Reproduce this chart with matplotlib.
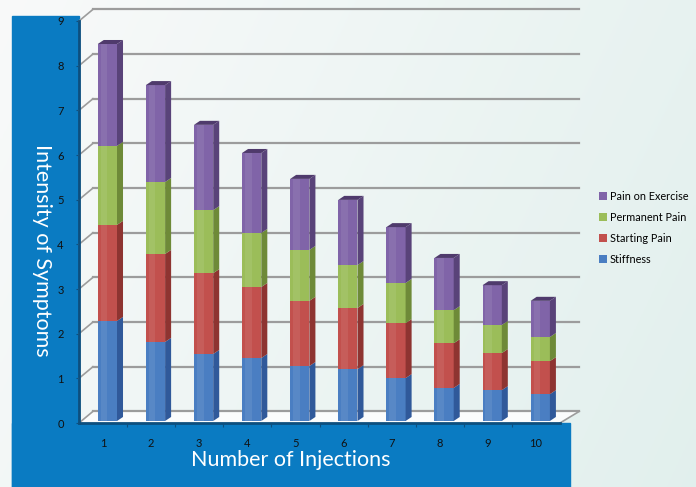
import numpy as np
import matplotlib
matplotlib.use("Agg")
import matplotlib.pyplot as plt
from matplotlib.patches import Polygon, Rectangle, Patch

plt.rcParams['font.family'] = ['Lato', 'DejaVu Sans']

# Data
injections = [1, 2, 3, 4, 5, 6, 7, 8, 9, 10]
stiffness = [2.24, 1.77, 1.50, 1.41, 1.23, 1.16, 0.96, 0.74, 0.69, 0.60]
starting_pain = [2.15, 1.97, 1.81, 1.59, 1.46, 1.37, 1.23, 1.00, 0.83, 0.74]
permanent_pain = [1.77, 1.61, 1.41, 1.21, 1.14, 0.96, 0.90, 0.74, 0.63, 0.54]
pain_on_exercise = [2.28, 2.17, 1.91, 1.79, 1.59, 1.46, 1.25, 1.17, 0.89, 0.81]
y_ticks = [0, 1, 2, 3, 4, 5, 6, 7, 8, 9]

series_names = ["Stiffness", "Starting Pain", "Permanent Pain", "Pain on Exercise"]
series_values = [stiffness, starting_pain, permanent_pain, pain_on_exercise]
front_colors = ["#4a7ec2", "#c2504d", "#9bbd59", "#8064a8"]
side_colors = ["#30599a", "#8e3431", "#6e8a38", "#594379"]
top_colors = ["#3a64a6", "#9a3c39", "#7a9942", "#4f3a6c"]

W, H = 696, 487
fig = plt.figure(figsize=(W / 100, H / 100), dpi=100)

# background gradient + blue bands (in a background axes)
bg = fig.add_axes([0, 0, 1, 1], zorder=-1)
gx, gy = np.meshgrid(np.linspace(0, 1, 200), np.linspace(0, 1, 200))
g = np.clip(0.75 * gx + 0.25 * gy, 0, 1)
c0 = np.array([0.975, 0.980, 0.980])
c1 = np.array([0.885, 0.940, 0.930])
img = c0[None, None, :] * (1 - g[..., None]) + c1[None, None, :] * g[..., None]
bg.imshow(img, extent=[0, 1, 0, 1], aspect='auto', origin='upper')
band = "#0a7bc2"
bg.add_patch(Rectangle((12 / W, 0), 67 / W, (H - 16) / H, color=band))
bg.add_patch(Rectangle((12 / W, 0), 558 / W, 64 / H, color=band))
bg.set_xlim(0, 1)
bg.set_ylim(0, 1)
bg.axis('off')

ax = fig.add_axes([79 / W, (H - 423) / H, 481 / W, 402 / H])
ax.set_xlim(0.5, 10.5)
ax.set_ylim(0, 9)
ax.patch.set_visible(False)

# 3D wall offsets
dy = 0.26
bx0 = 0.5 + 0.29
bx1 = 10.5 + 0.40
grid_c = "#9c9c9c"

floor = Polygon([(0.5, 0), (10.5, 0), (bx1, dy), (bx0, dy)], closed=True,
                facecolor="#fbfcfc", edgecolor="none", clip_on=False, zorder=1)
ax.add_patch(floor)
for v in y_ticks:
    ax.plot([bx0, bx1], [v + dy, v + dy], color=grid_c, lw=1.6, clip_on=False, zorder=2)
    ax.plot([0.5, bx0], [v, v + dy], color=grid_c, lw=1.2, clip_on=False, zorder=2)
ax.plot([10.5, bx1], [0, dy], color=grid_c, lw=1.2, clip_on=False, zorder=2)

# stacked 3D columns
w = 0.40
ddx = 0.125
ddy = 0.09
base = 0.045
for i, x in enumerate(injections):
    xl = x - 0.11
    bottom = base
    for k, vals in enumerate(series_values):
        top = bottom + vals[i]
        ax.add_patch(Rectangle((xl, bottom), w, vals[i], facecolor=front_colors[k],
                               edgecolor="none", zorder=5, clip_on=False))
        # soft highlight on the front face
        ax.add_patch(Rectangle((xl + w * 0.15, bottom), w * 0.35, vals[i], facecolor="white",
                               alpha=0.08, edgecolor="none", zorder=6, clip_on=False))
        ax.add_patch(Polygon([(xl + w, bottom), (xl + w + ddx, bottom + ddy),
                              (xl + w + ddx, top + ddy), (xl + w, top)], closed=True,
                             facecolor=side_colors[k], edgecolor="none", zorder=5, clip_on=False))
        bottom = top
    ax.add_patch(Polygon([(xl, bottom), (xl + w, bottom), (xl + w + ddx, bottom + ddy),
                          (xl + ddx, bottom + ddy)], closed=True,
                         facecolor=top_colors[-1], edgecolor="none", zorder=5, clip_on=False))

# axes styling
for s in ["top", "right"]:
    ax.spines[s].set_visible(False)
for s in ["left", "bottom"]:
    ax.spines[s].set_color("#0d4f7e")
    ax.spines[s].set_linewidth(2)
    ax.spines[s].set_zorder(7)

ax.set_yticks(y_ticks)
ax.set_yticklabels([str(v) for v in y_ticks], fontsize=8, color="#111111")
ax.tick_params(axis='y', length=2, width=0.8, color="#0d4f7e", pad=9)
ax.set_xticks(injections)
ax.set_xticklabels([str(v) for v in injections], fontsize=8, color="#111111")
ax.set_xticks(np.arange(1.5, 10.5, 1), minor=True)
ax.tick_params(axis='x', which='major', length=0, pad=11)
ax.tick_params(axis='x', which='minor', length=3, width=0.8, color="#0d4f7e")

fig.text(291 / W, 1 - 460 / H, "Number of Injections", color="white",
         fontsize=15.5, ha='center', va='center')
fig.text(42 / W, 1 - 250 / H, "Intensity of Symptoms", color="white",
         fontsize=15.5, rotation=-90, ha='center', va='center')

handles = [Patch(facecolor=front_colors[k], edgecolor="none") for k in range(3, -1, -1)]
labels = [series_names[k] for k in range(3, -1, -1)]
fig.legend(handles, labels, loc='upper left', bbox_to_anchor=(599 / W, 1 - 191 / H),
           frameon=False, fontsize=7.8, handlelength=0.7, handleheight=0.7,
           handletextpad=0.3, labelspacing=0.92, borderaxespad=0, borderpad=0)

fig.savefig("out.png", dpi=100)
